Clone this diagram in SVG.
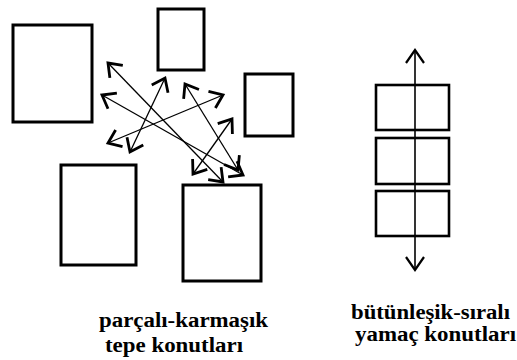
<svg xmlns="http://www.w3.org/2000/svg" width="517" height="360" viewBox="0 0 517 360">
<defs>
<style>
.box{fill:#fff;stroke:#000;stroke-width:3}
.sbox{fill:none;stroke:#000;stroke-width:2.6}
.lnk{stroke:#000;stroke-width:1.3;fill:none}
.axis{stroke:#000;stroke-width:1.6;fill:none}
.lbl{font-family:"Liberation Serif","Times New Roman",serif;font-weight:bold;font-size:20px;fill:#000}
</style>
<marker id="chev" markerUnits="userSpaceOnUse" viewBox="-16 -16 32 32" markerWidth="32" markerHeight="32" refX="0" refY="0" orient="auto-start-reverse">
<path d="M-12,-9 L0,0 L-12,9" fill="none" stroke="#000" stroke-width="2.8" stroke-linejoin="miter"/>
</marker>
<marker id="chev2" markerUnits="userSpaceOnUse" viewBox="-16 -16 32 32" markerWidth="32" markerHeight="32" refX="0" refY="0" orient="auto-start-reverse">
<path d="M-13,-9 L0,0 L-13,9" fill="none" stroke="#000" stroke-width="2.2" stroke-linejoin="miter"/>
</marker>
</defs>
<rect width="517" height="360" fill="#fff"/>
<g id="node-a"><rect class="box" x="13" y="25" width="79" height="97"/></g>
<g id="node-b"><rect class="box" x="158" y="9" width="46" height="61"/></g>
<g id="node-c"><rect class="box" x="245" y="74" width="48" height="62"/></g>
<g id="node-d"><rect class="box" x="61" y="165" width="75" height="100"/></g>
<g id="node-e"><rect class="box" x="183" y="185" width="78" height="96"/></g>
<g id="connectors">
<line class="lnk" x1="108" y1="63" x2="223" y2="182" marker-start="url(#chev)" marker-end="url(#chev)"/>
<line class="lnk" x1="102" y1="95" x2="243" y2="175" marker-start="url(#chev)" marker-end="url(#chev)"/>
<line class="lnk" x1="108" y1="143" x2="223" y2="95" marker-start="url(#chev)" marker-end="url(#chev)"/>
<line class="lnk" x1="165" y1="78" x2="130" y2="152" marker-start="url(#chev)" marker-end="url(#chev)"/>
<line class="lnk" x1="185" y1="84" x2="238" y2="170" marker-start="url(#chev)" marker-end="url(#chev)"/>
<line class="lnk" x1="232" y1="119" x2="193" y2="174" marker-start="url(#chev)" marker-end="url(#chev)"/>
</g>
<g id="node-f"><rect class="sbox" x="376" y="85" width="73" height="45"/></g>
<g id="node-g"><rect class="sbox" x="376" y="138" width="73" height="46"/></g>
<g id="node-h"><rect class="sbox" x="376" y="191" width="73" height="45"/></g>
<g id="axis-connector">
<line class="axis" x1="415" y1="50" x2="415" y2="270" marker-start="url(#chev2)" marker-end="url(#chev2)"/>
</g>
<g id="label-left">
<text class="lbl" x="99" y="327" textLength="169" lengthAdjust="spacingAndGlyphs">parçalı-karmaşık</text>
<text class="lbl" x="105" y="352" textLength="138" lengthAdjust="spacingAndGlyphs">tepe konutları</text>
</g>
<g id="label-right">
<text class="lbl" x="351" y="319" textLength="159" lengthAdjust="spacingAndGlyphs">bütünleşik-sıralı</text>
<text class="lbl" x="355" y="341" textLength="161" lengthAdjust="spacingAndGlyphs">yamaç konutları</text>
</g>
</svg>
